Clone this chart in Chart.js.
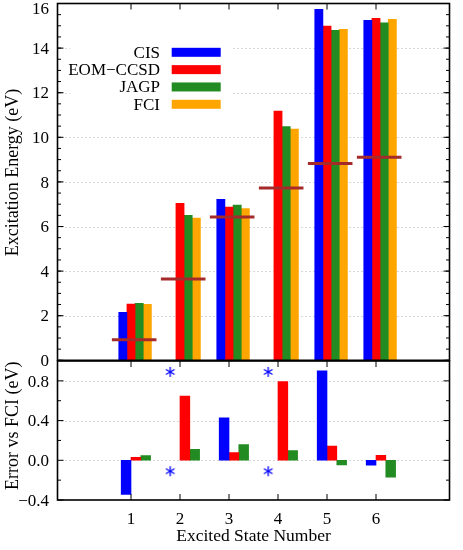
<!DOCTYPE html>
<html>
<head>
<meta charset="utf-8">
<script src="https://cdn.jsdelivr.net/npm/chart.js@4.4.1/dist/chart.umd.min.js"></script>
<style>
  html, body { margin: 0; padding: 0; background: #fff; }
  #wrap { position: relative; width: 463px; height: 550px; overflow: hidden; }
  #topCanvas { position: absolute; left: 0; top: 0; }
  #botCanvas { position: absolute; left: 0; top: 356px; }
</style>
</head>
<body>
<div id="wrap">
  <canvas id="topCanvas" width="463" height="372"></canvas>
  <canvas id="botCanvas" width="463" height="194"></canvas>
</div>
<script>
// excited states (x categories)
const states = [1, 2, 3, 4, 5, 6]

// excitation energies (eV), null = not shown
const cisEnergy  = [2.15, null, 7.22, null, 15.74, 15.25]
const eomEnergy  = [2.52, 7.04, 6.87, 11.18, 14.99, 15.34]
const jagpEnergy = [2.55, 6.50, 6.96, 10.48, 14.80, 15.13]
const fciEnergy  = [2.51, 6.38, 6.80, 10.37, 14.84, 15.29]

// reference levels drawn as short horizontal bars
const refLevel = [0.92, 3.65, 6.43, 7.73, 8.82, 9.10]

// errors vs FCI (eV)
const cisError  = [-0.343, null, 0.427, null, 0.90, -0.05]
const eomError  = [0.03, 0.647, 0.077, 0.793, 0.143, 0.05]
const jagpError = [0.047, 0.11, 0.157, 0.097, -0.047, -0.17]

// CIS off-scale markers (states, y values of the two asterisks)
const cisOffStates = [2, 4]
const cisOffMarks = [0.89, -0.11]

// axis ticks
const energyTicks = [0, 2, 4, 6, 8, 10, 12, 14, 16]
const errorTicks = [-0.4, 0.0, 0.4, 0.8]

const serif = 'Liberation Serif, Times New Roman, serif'
const colors = { cis: '#0000ff', eom: '#ff0000', jagp: '#228b22', fci: '#ffa500', ref: '#a52a2a' }

function fmtError(v) {
  if (Math.abs(v) < 1e-9) return '0.0'
  return v.toFixed(1).replace('-', '\u2212')
}

// asterisk marker image
function makeAsterisk(color) {
  const c = document.createElement('canvas')
  c.width = 12; c.height = 12
  const g = c.getContext('2d')
  g.strokeStyle = color
  g.lineWidth = 1.3
  g.translate(6, 6)
  for (let k = 0; k < 3; k++) {
    const a = Math.PI / 2 + k * Math.PI / 3
    g.beginPath()
    g.moveTo(Math.cos(a) * 5, Math.sin(a) * 5)
    g.lineTo(-Math.cos(a) * 5, -Math.sin(a) * 5)
    g.stroke()
  }
  return c
}

function barSet(label, values, offset, color) {
  return {
    type: 'bar',
    label: label,
    data: states.map((s, i) => ({ x: s + offset, y: values[i] })),
    backgroundColor: color,
    borderWidth: 0,
    grouped: false,
    categoryPercentage: 1,
    barPercentage: 1,
    order: 2
  }
}

// gnuplot-like frame: border, inward ticks, dotted grid, y labels, y title
const gnuFrame = {
  id: 'gnuFrame',
  beforeDatasetsDraw(chart, args, opts) {
    const { ctx, chartArea: a, scales } = chart
    ctx.save()
    ctx.strokeStyle = '#b0b0b0'
    ctx.lineWidth = 1
    ctx.setLineDash([1, 3])
    opts.grid.forEach(v => {
      const y = Math.round(scales.y.getPixelForValue(v)) + 0.5
      ctx.beginPath()
      ctx.moveTo(a.left, y)
      ctx.lineTo(a.right, y)
      ctx.stroke()
    })
    ctx.restore()
  },
  afterDraw(chart, args, opts) {
    const { ctx, chartArea: a, scales } = chart
    ctx.save()
    ctx.strokeStyle = '#000'
    ctx.lineWidth = 1
    const tick = (x1, y1, x2, y2) => {
      ctx.beginPath(); ctx.moveTo(x1, y1); ctx.lineTo(x2, y2); ctx.stroke()
    }
    // y ticks, both sides, with labels on the left
    ctx.font = '17px ' + serif
    ctx.fillStyle = '#000'
    ctx.textAlign = 'right'
    ctx.textBaseline = 'middle'
    opts.yMajor.forEach(v => {
      const y = scales.y.getPixelForValue(v)
      tick(a.left, y, a.left + 6, y)
      tick(a.right, y, a.right - 6, y)
      ctx.fillText(opts.fmt(v), a.left - 8.5, Math.max(y + 1.2, 9.2))
    })
    opts.yMinor.forEach(v => {
      const y = scales.y.getPixelForValue(v)
      tick(a.left, y, a.left + 3.5, y)
      tick(a.right, y, a.right - 3.5, y)
    })
    // x ticks
    states.forEach(s => {
      const x = scales.x.getPixelForValue(s)
      if (opts.xTop) tick(x, a.top, x, a.top + 6)
      if (opts.xBottom) tick(x, a.bottom, x, a.bottom - 6)
    })
    ctx.lineWidth = 1.6
    ctx.strokeRect(a.left, a.top, a.right - a.left, a.bottom - a.top)

    // y axis title
    ctx.save()
    ctx.font = '18px ' + serif
    ctx.textAlign = 'center'
    ctx.translate(13, opts.titleY)
    ctx.rotate(-Math.PI / 2)
    ctx.fillText(opts.title, 0, 0)
    ctx.restore()

    // legend, drawn in the plot
    if (opts.legend) {
      ctx.fillStyle = '#fff'
      ctx.fillRect(70, 40, 162, 74)
      ctx.font = '17px ' + serif
      ctx.textAlign = 'right'
      chart.data.datasets.filter(d => d.type === 'bar').forEach((d, i) => {
        const y = 52.3 + i * 17.33
        ctx.fillStyle = '#000'
        ctx.fillText(d.label, 160, y + 0.8)
        ctx.fillStyle = d.backgroundColor
        ctx.fillRect(171.7, y - 4.5, 49, 9)
      })
    }
    ctx.restore()
  }
}

function minorTicks(min, max, step) {
  const out = []
  for (let k = 0; min + k * step <= max + 1e-9; k++) out.push(min + k * step)
  return out
}

// ---------------- top: excitation energies ----------------
const refData = []
states.forEach((s, i) => {
  refData.push({ x: s - 0.39, y: refLevel[i] })
  refData.push({ x: s + 0.52, y: refLevel[i] })
  refData.push({ x: s + 0.6, y: null })
})

new Chart(document.getElementById('topCanvas'), {
  type: 'bar',
  data: {
    datasets: [
      barSet('CIS', cisEnergy, -1 / 6, colors.cis),
      barSet('EOM\u2212CCSD', eomEnergy, 0, colors.eom),
      barSet('JAGP', jagpEnergy, 1 / 6, colors.jagp),
      barSet('FCI', fciEnergy, 2 / 6, colors.fci),
      {
        type: 'line',
        label: 'ref',
        data: refData,
        borderColor: colors.ref,
        borderWidth: 3,
        borderCapStyle: 'butt',
        pointRadius: 0,
        spanGaps: false,
        order: 0
      }
    ]
  },
  options: {
    responsive: false,
    animation: false,
    layout: { padding: { left: 0, right: 13.5, top: 3.5, bottom: 11.7 } },
    plugins: {
      legend: { display: false },
      tooltip: { enabled: false },
      gnuFrame: {
        grid: energyTicks.slice(1, -1),
        yMajor: energyTicks,
        yMinor: minorTicks(0, 16, 0.5),
        fmt: v => String(v),
        title: 'Excitation Energy (eV)',
        titleY: 172.5,
        xTop: true,
        xBottom: false,
        legend: true
      }
    },
    scales: {
      x: { type: 'linear', min: 0, max: 7, display: false },
      y: {
        min: 0,
        max: 16,
        ticks: { display: false, stepSize: 2 },
        grid: { display: false, drawTicks: false },
        border: { display: false },
        afterFit(s) { s.width = 57.5; s.paddingTop = 0; s.paddingBottom = 0 }
      }
    }
  },
  plugins: [gnuFrame]
})

// ---------------- bottom: error vs FCI ----------------
const asterisk = makeAsterisk(colors.cis)
const offData = []
cisOffStates.forEach(s => cisOffMarks.forEach(v => offData.push({ x: s - 0.2, y: v })))

new Chart(document.getElementById('botCanvas'), {
  type: 'bar',
  data: {
    datasets: [
      barSet('CIS', cisError, -0.1, colors.cis),
      barSet('EOM\u2212CCSD', eomError, 0.1, colors.eom),
      barSet('JAGP', jagpError, 0.3, colors.jagp),
      {
        type: 'line',
        label: 'CIS off scale',
        data: offData,
        showLine: false,
        pointStyle: asterisk,
        order: 0
      }
    ]
  },
  options: {
    responsive: false,
    animation: false,
    layout: { padding: { left: 0, right: 13.5, top: 4, bottom: 0 } },
    plugins: {
      legend: { display: false },
      tooltip: { enabled: false },
      gnuFrame: {
        grid: [0.0, 0.4, 0.8],
        yMajor: errorTicks,
        yMinor: [-0.2, 0.2, 0.6],
        fmt: fmtError,
        title: 'Error vs FCI (eV)',
        titleY: 425.8 - 356,
        xTop: true,
        xBottom: true,
        legend: false
      }
    },
    scales: {
      x: {
        type: 'linear',
        min: 0,
        max: 7,
        ticks: {
          stepSize: 1,
          color: '#000',
          font: { family: serif, size: 17 },
          padding: 9,
          callback: v => (states.includes(v) ? String(v) : '')
        },
        grid: { display: false, drawTicks: false },
        border: { display: false },
        title: { display: true, text: 'Excited State Number', color: '#000', font: { family: serif, size: 17.5 }, padding: { bottom: 3.5 } },
        afterFit(s) { s.height = 50; s.paddingLeft = 0; s.paddingRight = 0 }
      },
      y: {
        min: -0.4,
        max: 1.0,
        ticks: { display: false, stepSize: 0.4 },
        grid: { display: false, drawTicks: false },
        border: { display: false },
        afterFit(s) { s.width = 57.5; s.paddingTop = 0; s.paddingBottom = 0 }
      }
    }
  },
  plugins: [gnuFrame]
})
</script>
</body>
</html>
